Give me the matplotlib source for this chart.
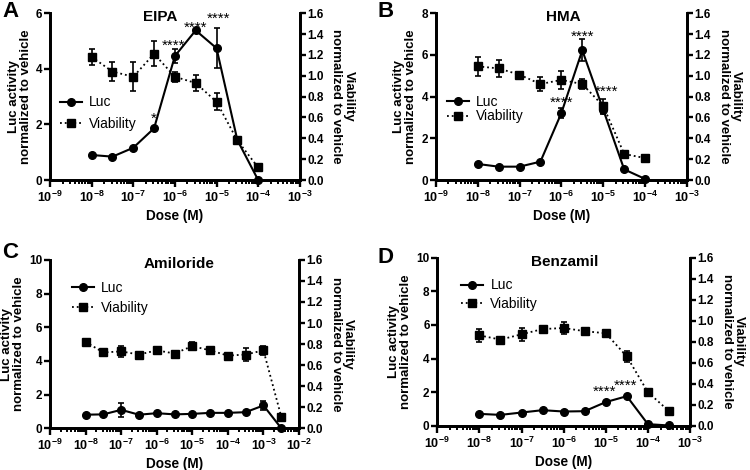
import numpy as np
import matplotlib.pyplot as plt
from matplotlib.lines import Line2D
from matplotlib.ticker import LogLocator, FixedLocator, NullFormatter

plt.rcParams['font.family'] = ['Liberation Sans', 'DejaVu Sans']
plt.rcParams['mathtext.fontset'] = 'custom'
plt.rcParams['mathtext.rm'] = 'Liberation Sans:bold'
plt.rcParams['mathtext.it'] = 'Liberation Sans:bold'
plt.rcParams['mathtext.bf'] = 'Liberation Sans:bold'

# ── data ─────────────────────────────────────────────────────────────────────
# A: EIPA
dose_A = [1e-8, 3.16e-8, 1e-7, 3.16e-7, 1e-6, 3.16e-6, 1e-5, 3.16e-5, 1e-4]
luc_A = [0.90, 0.84, 1.16, 1.86, 4.46, 5.38, 4.74, 1.44, 0.0]
luc_A_err = [0.03, 0.03, 0.04, 0.05, 0.24, 0.04, 0.72, 0.05, 0.0]
via_A = [1.18, 1.04, 0.99, 1.21, 0.99, 0.93, 0.75, 0.38, 0.12]
via_A_err = [0.08, 0.09, 0.14, 0.12, 0.05, 0.075, 0.08, 0.02, 0.01]
star_A_x = [3.16e-7, 0.93e-6, 3.16e-6, 1.1e-5]
star_A_y = [1.95, 4.57, 5.22, 5.55]
star_A_txt = ['*', '****', '****', '****']

# B: HMA
dose_B = [1e-8, 3.16e-8, 1e-7, 3.16e-7, 1e-6, 3.16e-6, 1e-5, 3.16e-5, 1e-4]
luc_B = [0.77, 0.64, 0.64, 0.88, 3.21, 6.22, 3.37, 0.51, 0.05]
luc_B_err = [0.03, 0.03, 0.03, 0.04, 0.25, 0.52, 0.22, 0.03, 0.02]
via_B = [1.09, 1.07, 1.01, 0.92, 0.96, 0.92, 0.71, 0.25, 0.21]
via_B_err = [0.09, 0.085, 0.02, 0.065, 0.085, 0.05, 0.07, 0.01, 0.01]
star_B_x = [1e-6, 3.16e-6, 1.2e-5]
star_B_y = [3.38, 6.53, 3.88]
star_B_txt = ['****', '****', '****']

# C: Amiloride
dose_C = [1e-8, 3.16e-8, 1e-7, 3.16e-7, 1e-6, 3.16e-6, 1e-5, 3.16e-5,
          1e-4, 3.16e-4, 1e-3, 3.16e-3]
luc_C = [0.80, 0.82, 1.09, 0.80, 0.89, 0.82, 0.85, 0.91, 0.91, 0.95, 1.35, 0.0]
luc_C_err = [0.03, 0.03, 0.40, 0.03, 0.03, 0.03, 0.03, 0.03, 0.03, 0.03, 0.25, 0.0]
via_C = [0.82, 0.72, 0.73, 0.70, 0.74, 0.71, 0.78, 0.74, 0.69, 0.70, 0.74, 0.11]
via_C_err = [0.01, 0.01, 0.05, 0.01, 0.01, 0.01, 0.04, 0.01, 0.01, 0.06, 0.04, 0.01]

# D: Benzamil
dose_D = [1e-8, 3.16e-8, 1e-7, 3.16e-7, 1e-6, 3.16e-6, 1e-5, 3.16e-5,
          1e-4, 3.16e-4]
luc_D = [0.71, 0.65, 0.79, 0.93, 0.85, 0.87, 1.41, 1.76, 0.10, 0.02]
luc_D_err = [0.03, 0.03, 0.03, 0.03, 0.03, 0.03, 0.05, 0.05, 0.02, 0.01]
via_D = [0.86, 0.82, 0.87, 0.92, 0.93, 0.90, 0.88, 0.66, 0.32, 0.14]
via_D_err = [0.06, 0.01, 0.06, 0.01, 0.06, 0.01, 0.01, 0.05, 0.03, 0.01]
star_D_x = [0.95e-5, 2.9e-5]
star_D_y = [1.58, 1.98]
star_D_txt = ['****', '****']

# letter, title, title x, data, stars, xlim, yticks, legend (x, ymid, spacing), rect
panels = [
    ('A', 'EIPA', 0.44, dose_A, luc_A, luc_A_err, via_A, via_A_err,
     (star_A_x, star_A_y, star_A_txt), (1e-9, 1e-3), [0, 2, 4, 6],
     (0.04, 0.40, 0.55), [0.0667, 0.617, 0.333, 0.355], (2, 1)),
    ('B', 'HMA', 0.506, dose_B, luc_B, luc_B_err, via_B, via_B_err,
     (star_B_x, star_B_y, star_B_txt), (1e-9, 1e-3), [0, 2, 4, 6, 8],
     (0.044, 0.425, 0.05), [0.581, 0.617, 0.335, 0.355], (377, 1)),
    ('C', 'Amiloride', 0.52, dose_C, luc_C, luc_C_err, via_C, via_C_err,
     None, (1e-9, 1e-2), [0, 2, 4, 6, 8, 10],
     (0.088, 0.775, 0.42), [0.0667, 0.089, 0.332, 0.358], (2, 242)),
    ('D', 'Benzamil', 0.506, dose_D, luc_D, luc_D_err, via_D, via_D_err,
     (star_D_x, star_D_y, star_D_txt), (1e-9, 1e-3), [0, 2, 4, 6, 8, 10],
     (0.095, 0.78, 0.3), [0.583, 0.094, 0.337, 0.358], (377, 247)),
]

W, H = 750, 470
fig = plt.figure(figsize=(W / 100, H / 100), dpi=100)

for (letter, title, tx, dose, luc, luc_err, via, via_err, stars, xlim, yt,
     leg, rect, lpos) in panels:
    ax = fig.add_axes(rect)
    ax2 = ax.twinx()

    ax.errorbar(dose, luc, yerr=luc_err, fmt='-o', color='black', ms=5.5,
                lw=1.5, capsize=2.5, elinewidth=1.2, capthick=1.2,
                clip_on=False, zorder=5)
    ax2.errorbar(dose, via, yerr=via_err, fmt=':s', color='black', ms=6,
                 lw=1.3, capsize=2.5, elinewidth=1.2, capthick=1.2,
                 clip_on=False, zorder=5)

    for a in (ax, ax2):
        a.set_xscale('log')
        a.set_xlim(*xlim)
        a.spines['top'].set_visible(False)
        for s in a.spines.values():
            s.set_linewidth(2.0)
        a.tick_params(direction='out', width=1.7, length=4, labelsize=8.5, pad=1.5)

    ax.set_ylim(0, yt[-1])
    ax.set_yticks(yt)
    ax.set_yticklabels([str(v) for v in yt], fontweight='bold')
    ax2.set_ylim(0, 1.6)
    vt = np.round(np.arange(0, 1.61, 0.2), 1)
    ax2.set_yticks(vt)
    ax2.set_yticklabels([f'{v:.1f}' for v in vt], fontweight='bold')

    lo, hi = int(np.log10(xlim[0])), int(np.log10(xlim[1]))
    ax.xaxis.set_major_locator(FixedLocator([10.0 ** e for e in range(lo, hi + 1)]))
    ax.xaxis.set_minor_locator(LogLocator(base=10, subs=np.arange(2, 10), numticks=20))
    ax.xaxis.set_minor_formatter(NullFormatter())
    ax.set_xticklabels([f'$10^{{{e}}}$' for e in range(lo, hi + 1)])
    ax.tick_params(axis='x', which='minor', direction='out', width=1.4, length=3)
    ax.tick_params(axis='x', which='major', length=5, pad=2, labelsize=9)

    ax.set_xlabel('Dose (M)', fontsize=9.8, fontweight='bold', labelpad=3)
    ax.set_ylabel('Luc activity\nnormalized to vehicle', fontsize=9.5,
                  fontweight='bold', labelpad=3, linespacing=1.0)
    ax2.set_ylabel('Viability\nnormalized to vehicle', fontsize=9.5,
                   fontweight='bold', rotation=270, labelpad=22, linespacing=1.0)
    ax.text(tx, 0.975, title, transform=ax.transAxes, ha='center', va='center',
            fontsize=11, fontweight='bold')

    if stars is not None:
        for sx, sy, st in zip(*stars):
            ax.text(sx, sy, st, ha='center', va='bottom', fontsize=11, zorder=6)

    handles = [Line2D([], [], color='black', ls='-', lw=1.5, marker='o', ms=5.5),
               Line2D([], [], color='black', ls=':', lw=1.3, marker='s', ms=6)]
    ax2.legend(handles, ['Luc', 'Viability'], loc='center left',
               bbox_to_anchor=(leg[0], leg[1]), frameon=False, fontsize=10,
               handlelength=1.6, handletextpad=0.5, labelspacing=leg[2],
               borderpad=0, borderaxespad=0)

    fig.text(lpos[0] / W, 1 - lpos[1] / H, letter, fontsize=16,
             fontweight='bold', ha='left', va='top')

fig.savefig('out.png', dpi=100)
